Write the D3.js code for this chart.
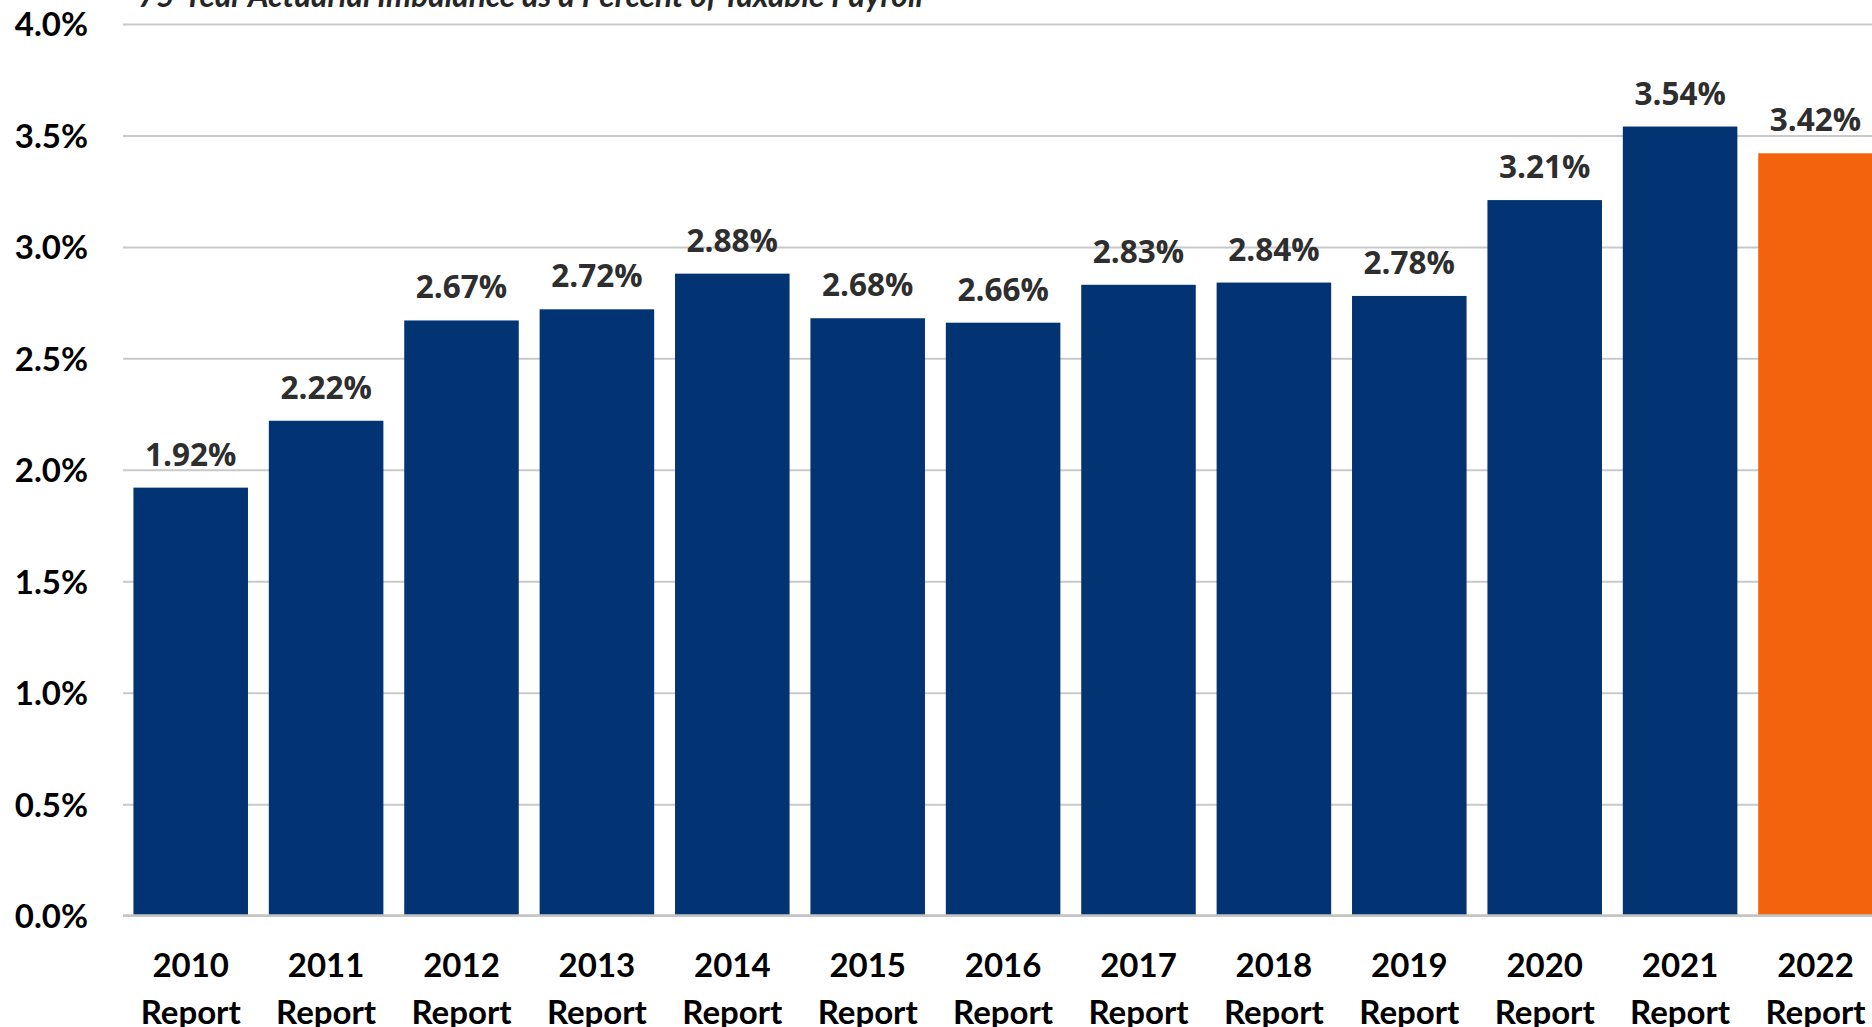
<!DOCTYPE html>
<html>
<head>
<meta charset="utf-8">
<script src="https://cdn.jsdelivr.net/npm/d3@7"></script>
<style>
  html, body { margin: 0; padding: 0; background: #fff; overflow: hidden; }
  svg { display: block; }
</style>
</head>
<body>
<div id="chart"></div>
<script>
// data
var reportYears = ["2010", "2011", "2012", "2013", "2014", "2015", "2016", "2017", "2018", "2019", "2020", "2021", "2022"];
var imbalance = [1.92, 2.22, 2.67, 2.72, 2.88, 2.68, 2.66, 2.83, 2.84, 2.78, 3.21, 3.54, 3.42];
var yTicks = [0, 0.5, 1.0, 1.5, 2.0, 2.5, 3.0, 3.5, 4.0];
var titleText = "75-Year Actuarial Imbalance as a Percent of Taxable Payroll";

var w = 1872, h = 1027;
var navy = "#023473", orange = "#F2630B";

var svg = d3.select("#chart").append("svg")
  .attr("width", w)
  .attr("height", h);

// scales
var xScale = d3.scaleBand()
  .domain(reportYears)
  .range([123, 123 + 13 * 135.4])
  .paddingInner(0.154)
  .paddingOuter(0.077);

var yScale = d3.scaleLinear()
  .domain([0, 4])
  .range([915.6, 24]);

// gridlines via axis
var grid = svg.append("g")
  .attr("transform", "translate(" + w + ",0)")
  .call(d3.axisLeft(yScale).tickValues(yTicks).tickSize(w - 123).tickFormat(""));
grid.select(".domain").remove();
grid.selectAll(".tick line")
  .attr("stroke", "#c9c9c9")
  .attr("stroke-width", 2);

// y labels
var yAxis = svg.append("g")
  .attr("transform", "translate(88,0)")
  .call(d3.axisLeft(yScale).tickValues(yTicks).tickSize(0).tickPadding(0)
    .tickFormat(d => d.toFixed(1) + "%"));
yAxis.select(".domain").remove();
yAxis.selectAll("text")
  .attr("fill", "#000")
  .attr("font-family", "Lato, sans-serif")
  .attr("font-weight", "bold")
  .attr("font-size", 33)
  .attr("dy", "0.36em");

// bars
svg.append("g").selectAll("rect")
  .data(imbalance)
  .enter().append("rect")
  .attr("x", (d, i) => xScale(reportYears[i]))
  .attr("y", d => yScale(d))
  .attr("width", xScale.bandwidth())
  .attr("height", d => yScale(0) - yScale(d))
  .attr("fill", (d, i) => i === reportYears.length - 1 ? orange : navy);

// value labels
svg.append("g").selectAll("text")
  .data(imbalance)
  .enter().append("text")
  .attr("x", (d, i) => xScale(reportYears[i]) + xScale.bandwidth() / 2)
  .attr("y", d => yScale(d) - 22)
  .attr("text-anchor", "middle")
  .attr("font-family", "'Open Sans', sans-serif")
  .attr("font-weight", "bold")
  .attr("font-size", 31.5)
  .attr("fill", "#2e2e2e")
  .text(d => d.toFixed(2) + "%");

// baseline
svg.append("line")
  .attr("x1", 123).attr("x2", w)
  .attr("y1", yScale(0)).attr("y2", yScale(0))
  .attr("stroke", "#c4c4c4")
  .attr("stroke-width", 2.5);

// category labels, two lines
var xAxis = svg.append("g").selectAll("text")
  .data(reportYears)
  .enter().append("text")
  .attr("x", d => xScale(d) + xScale.bandwidth() / 2)
  .attr("y", 977)
  .attr("text-anchor", "middle")
  .attr("font-family", "Lato, sans-serif")
  .attr("font-weight", "bold")
  .attr("font-size", 33)
  .attr("fill", "#000");
xAxis.append("tspan").text(d => d);
xAxis.append("tspan")
  .attr("x", d => xScale(d) + xScale.bandwidth() / 2)
  .attr("dy", 47)
  .text("Report");

// title, cut off at the top like the original
var title = svg.append("text")
  .attr("x", 138)
  .attr("y", 7)
  .attr("font-family", "Lato, sans-serif")
  .attr("font-weight", "bold")
  .attr("font-style", "italic")
  .attr("font-size", 28)
  .attr("fill", "#262626")
  .text(titleText);
var len = title.node().getComputedTextLength();
title.attr("font-size", 28 * 785 / len);
</script>
</body>
</html>
